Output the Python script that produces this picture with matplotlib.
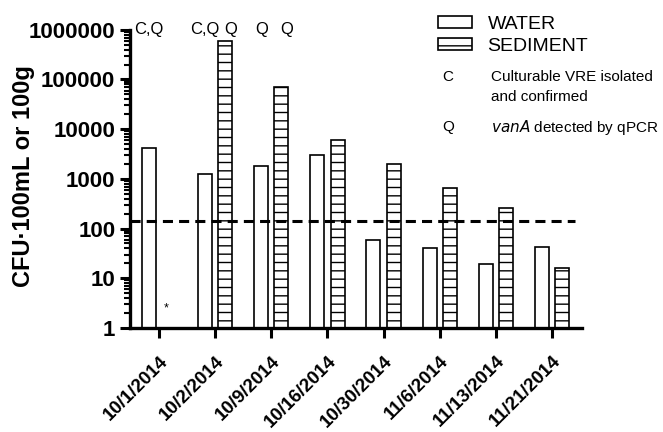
import numpy as np
import matplotlib.pyplot as plt
from matplotlib.ticker import LogLocator, FixedFormatter, FixedLocator

plt.rcParams['font.family'] = ['Liberation Sans', 'DejaVu Sans']
plt.rcParams['hatch.linewidth'] = 1.0

dates = ["10/1/2014", "10/2/2014", "10/9/2014", "10/16/2014",
         "10/30/2014", "11/6/2014", "11/13/2014", "11/21/2014"]
water = [4200, 1250, 1800, 3000, 59, 41, 19.5, 43]
sediment = [np.nan, 590000, 70000, 6000, 2000, 650, 260, 16]
threshold = 142

# marks above bars: (date index, series, text)
marks = [(0, "water", "C,Q"), (1, "water", "C,Q"), (1, "sediment", "Q"),
         (2, "water", "Q"), (2, "sediment", "Q")]
star_value = 2.5

yticks = [1, 10, 100, 1000, 10000, 100000, 1000000]
ytick_labels = ["1", "10", "100", "1000", "10000", "100000", "1000000"]

fig = plt.figure(figsize=(6.63, 4.32), dpi=100)
ax = fig.add_axes([0.196, 0.241, 0.682, 0.690])

x = np.arange(len(dates))
w = 0.25
off = 0.18
bw = ax.bar(x - off, water, w, color='white', edgecolor='black', linewidth=1.2,
            label='WATER')
bs = ax.bar(x + off, sediment, w, color='white', edgecolor='black', linewidth=1.2,
            hatch='--', label='SEDIMENT')

ax.set_yscale('log')
ax.set_ylim(1, 1e6)
ax.set_xlim(-0.52, 7.54)

ax.axhline(threshold, xmin=0, xmax=0.985, color='black', linewidth=2.2,
           dashes=(3.3, 2.0))

for i, series, txt in marks:
    xx = i - off if series == "water" else i + off + 0.1
    ax.text(xx, 1e6, txt, ha='center', va='center', fontsize=12, clip_on=False)
ax.text(0 + 0.12, star_value, "*", ha='center', va='center', fontsize=9)

ax.yaxis.set_major_locator(FixedLocator(yticks))
ax.yaxis.set_major_formatter(FixedFormatter(ytick_labels))
ax.yaxis.set_minor_locator(LogLocator(base=10, subs=np.arange(2, 10)))
ax.yaxis.set_minor_formatter(plt.NullFormatter())
for lab in ax.get_yticklabels():
    lab.set_fontweight('bold')
    lab.set_fontsize(16)

ax.set_xticks(x)
ax.set_xticklabels(dates, rotation=45, ha='right', rotation_mode='anchor',
                   fontsize=13.5, fontweight='bold')

ax.tick_params(axis='both', which='major', direction='out', length=7, width=2.2)
ax.tick_params(axis='y', which='minor', direction='out', length=4, width=1.5)
ax.tick_params(axis='x', pad=11)

ax.spines['top'].set_visible(False)
ax.spines['right'].set_visible(False)
ax.spines['left'].set_linewidth(2.4)
ax.spines['bottom'].set_linewidth(2.4)

fig.text(0.036, 0.592, "CFU\u00b7100mL or 100g", fontsize=17, fontweight='bold',
         rotation=90, ha='center', va='center')

leg = fig.legend(handles=[bw, bs], labels=['WATER', 'SEDIMENT'],
                 loc='upper left', bbox_to_anchor=(0.64, 0.995),
                 frameon=False, fontsize=14, handlelength=1.75, handleheight=0.6,
                 handletextpad=0.8, labelspacing=0.25, borderpad=0.2)

fig.text(0.676, 0.822, "C", fontsize=11, va='center', ha='center')
fig.text(0.740, 0.822, "Culturable VRE isolated", fontsize=11, va='center')
fig.text(0.740, 0.775, "and confirmed", fontsize=11, va='center')
fig.text(0.676, 0.706, "Q", fontsize=11, va='center', ha='center')
fig.text(0.740, 0.706, "$\\it{vanA}$ detected by qPCR", fontsize=11, va='center')

fig.savefig("out.png", dpi=100)
